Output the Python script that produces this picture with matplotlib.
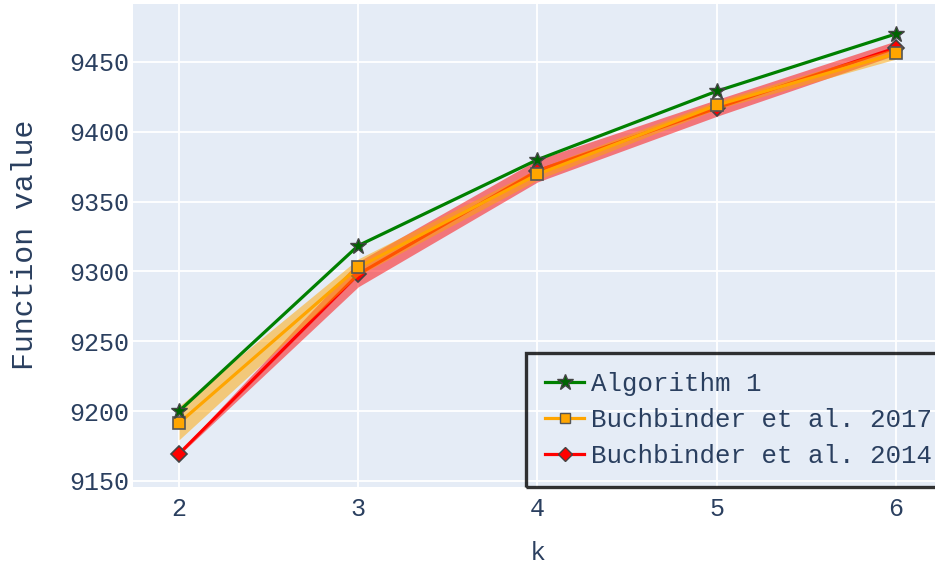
import matplotlib
matplotlib.use("Agg")
import matplotlib.pyplot as plt
import numpy as np
from matplotlib.lines import Line2D

k = [2, 3, 4, 5, 6]
alg1 = [9200, 9318.5, 9380, 9429, 9470]
b2017 = [9191.5, 9303, 9369.5, 9419, 9456]
b2017_err = [12, 6, 4, 3, 4]
b2014 = [9169.5, 9298, 9372, 9417, 9460]
b2014_err = [1, 9, 8, 6, 5]
labels = ["Algorithm 1", "Buchbinder et al. 2017", "Buchbinder et al. 2014"]
yticks = [9150, 9200, 9250, 9300, 9350, 9400, 9450]

mono = "Liberation Mono"
txt = "#2a3f5f"
bg = "#E5ECF6"

fig = plt.figure(figsize=(9.35, 5.71), dpi=100)
ax = fig.add_axes([133/935, 1 - 487/571, 1 - 133/935, (487 - 4)/571])
ax.set_facecolor(bg)
for s in ax.spines.values():
    s.set_visible(False)
ax.grid(True, color="white", linewidth=1.3)
ax.set_axisbelow(True)

b14 = np.array(b2014); e14 = np.array(b2014_err)
b17 = np.array(b2017); e17 = np.array(b2017_err)

ax.fill_between(k, b14 - e14, b14 + e14, color=(1, 0, 0, 0.5), linewidth=0, zorder=2)
ax.plot(k, b2014, color="red", linewidth=2.3, marker="D", markersize=8,
        markerfacecolor="red", markeredgecolor="#444444", markeredgewidth=1.2, zorder=3)
ax.fill_between(k, b17 - e17, b17 + e17, color=(1, 165/255, 0, 0.5), linewidth=0, zorder=4)
ax.plot(k, b2017, color="orange", linewidth=2.3, marker="s", markersize=8,
        markerfacecolor="orange", markeredgecolor="#555555", markeredgewidth=1.2, zorder=5)
ax.plot(k, alg1, color="green", linewidth=2.3, marker="*", markersize=12,
        markerfacecolor="darkgreen", markeredgecolor="#444444", markeredgewidth=1.0, zorder=6)

ax.set_xlim(1.743, 6.218)
ax.set_ylim(9145.7, 9491.4)
ax.set_xticks(k)
ax.set_yticks(yticks)
ax.tick_params(axis="y", length=0, pad=3, labelsize=18, labelcolor=txt)
ax.tick_params(axis="x", length=0, pad=7, labelsize=18, labelcolor=txt)
for lab in ax.get_xticklabels() + ax.get_yticklabels():
    lab.set_fontfamily(mono)

fig.text(25/935, 1 - 245/571, "Function value", rotation=90, ha="center", va="center",
         fontsize=21.5, color=txt, fontfamily=mono)
fig.text(538/935, 1 - 554/571, "k", ha="center", va="center",
         fontsize=19, color=txt, fontfamily="Open Sans")

handles = [
    Line2D([], [], color="green", linewidth=2.3, marker="*", markersize=12,
           markerfacecolor="darkgreen", markeredgecolor="#444444"),
    Line2D([], [], color="orange", linewidth=2.3, marker="s", markersize=7,
           markerfacecolor="orange", markeredgecolor="#555555"),
    Line2D([], [], color="red", linewidth=2.3, marker="D", markersize=7,
           markerfacecolor="red", markeredgecolor="#444444"),
]
leg = fig.legend(handles, labels, loc="lower right", bbox_to_anchor=(1.0 + 16/935, 84/571),
                 prop={"family": mono, "size": 18.6}, frameon=True, fancybox=False,
                 handlelength=1.5, handletextpad=0.25, borderpad=0.75, labelspacing=0.45,
                 borderaxespad=0)
for t in leg.get_texts():
    t.set_color(txt)
fr = leg.get_frame()
fr.set_edgecolor("black")
fr.set_linewidth(2.4)
fr.set_facecolor("none")

fig.savefig("out.png", dpi=100)
